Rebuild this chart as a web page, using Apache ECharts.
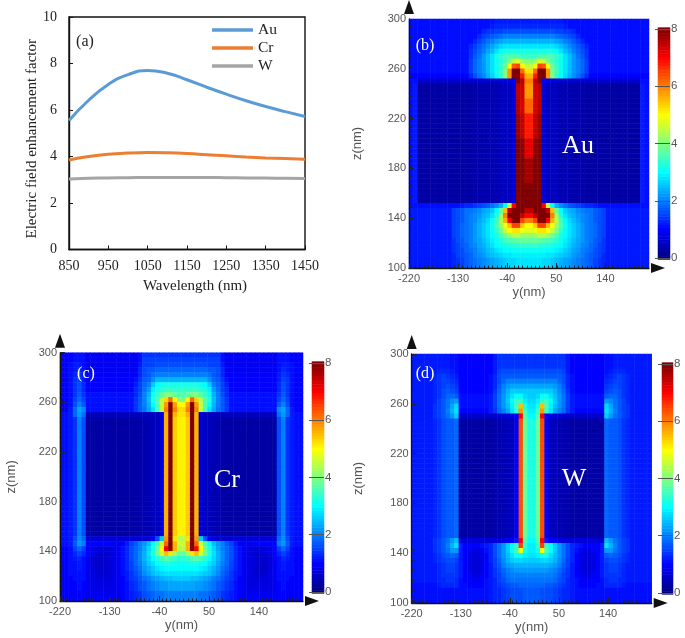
<!DOCTYPE html>
<html><head><meta charset="utf-8">
<style>html,body{margin:0;padding:0;background:#fff}#c{width:685px;height:638px;filter:blur(0.5px)}</style>
<script src="https://cdn.jsdelivr.net/npm/echarts@6/dist/echarts.min.js"></script>
</head><body><div id="c"></div>
<script>
const wavelength=[850,900,950,1000,1050,1100,1150,1200,1250,1300,1350,1400,1450];
const au=[5.55,6.42,7.1,7.52,7.7,7.58,7.3,6.98,6.68,6.4,6.15,5.93,5.72];
const cr=[3.85,4.0,4.1,4.15,4.17,4.16,4.13,4.08,4.03,3.98,3.94,3.91,3.88];
const w=[3.03,3.06,3.08,3.09,3.1,3.1,3.1,3.1,3.09,3.08,3.07,3.06,3.05];
const wavelengthTicks=[850,950,1050,1150,1250,1350,1450];
const yTicks=[-220,-130,-40,50,140];
const zTicks=[100,140,180,220,260,300];
const yCells=[-216,-208,-200,-192,-184,-176,-168,-160,-152,-144,-136,-128,-120,-112,-104,-96,-88,-80,-72,-64,-56,-48,-40,-32,-24,-16,-8,0,0.1,8,16,24,32,40,48,56,64,72,80,88,96,104,112,120,128,136,144,152,160,168,176,184,192,200,208,216];
const zCells=[102,106,110,114,118,122,126,130,134,138,142,146,150,154,158,162,166,170,174,178,182,186,190,194,198,202,206,210,214,218,222,226,230,234,238,242,246,250,254,258,262,266,270,274,278,282,286,290,294,298];
const scaleLevels=[0,.1,.2,.3,.4,.5,.6,.7,.8,.9,1,1.1,1.2,1.3,1.4,1.5,1.6,1.7,1.8,1.9,2,2.1,2.2,2.3,2.4,2.5,2.6,2.7,2.8,2.9,3,3.1,3.2,3.3,3.4,3.5,3.6,3.7,3.8,3.9,4,4.1,4.2,4.3,4.4,4.5,4.6,4.7,4.8,4.9,5,5.1,5.2,5.3,5.4,5.5,5.6,5.7,5.8,5.9,6,6.1,6.2,6.3,6.4,6.5,6.6,6.7,6.8,6.9,7,7.1,7.2,7.3,7.4,7.5,7.6,7.7,7.8,7.9,8];
const zNameGaps=[45,42,47];
// each entry: [number of z rows, field values from the left edge to the centre line], top row first
const fieldAu=[
[1,[1.1,1.1,1.1,1.1,1.1,1.1,1.1,1.1,1.1,1.1,1.1,1.1,1.1,1.1,1.1,1.1,1.1,1.1,1.1,1.1,1.2,1.2,1.2,1.2,1.2,1.2,1.2,1.2]],
[1,[1.1,1.1,1.1,1.1,1.1,1.1,1.1,1.1,1.1,1.1,1.1,1.1,1.1,1.1,1.1,1.1,1.1,1.1,1.1,1.2,1.3,1.3,1.3,1.3,1.3,1.3,1.3,1.3]],
[1,[1.1,1.1,1.1,1.1,1.1,1.1,1.1,1.1,1.1,1.1,1.1,1.1,1.1,1.1,1.1,1.1,1.1,1.3,1.4,1.4,1.5,1.5,1.6,1.6,1.6,1.6,1.6,1.6]],
[1,[1.1,1.1,1.1,1.1,1.1,1.1,1.1,1.1,1.1,1.1,1.1,1.1,1.1,1.1,1.1,1.1,1.3,1.5,1.6,1.7,1.8,1.9,2,2,2,2,2,2]],
[1,[1.1,1.1,1.1,1.1,1.1,1.1,1.1,1.1,1.1,1.1,1.1,1.1,1.1,1.1,1.1,1.3,1.5,1.7,1.9,2,2.2,2.3,2.4,2.4,2.4,2.4,2.4,2.4]],
[1,[1.1,1.1,1.1,1.1,1.1,1.1,1.1,1.1,1.1,1.1,1.1,1.1,1.1,1.1,1.3,1.5,1.7,1.9,2.1,2.3,2.5,2.7,2.8,2.8,2.8,2.8,2.8,2.8]],
[1,[1.1,1.1,1.1,1.1,1.1,1.1,1.1,1.1,1.1,1.1,1.1,1.1,1.1,1.1,1.4,1.6,1.8,2,2.3,2.5,2.8,3,3.2,3.2,3.2,3.2,3.2,3.2]],
[1,[1.1,1.1,1.1,1.1,1.1,1.1,1.1,1.1,1.1,1.1,1.1,1.1,1.1,1.1,1.4,1.7,1.9,2.2,2.5,2.8,3.2,3.4,3.5,3.6,3.6,3.5,3.4,3.4]],
[1,[1.1,1.1,1.1,1.1,1.1,1.1,1.1,1.1,1.1,1.1,1.1,1.1,1.1,1.1,1.5,1.8,2,2.2,2.5,2.8,3.1,3.3,3.6,4,4.5,4.8,4.2,4]],
[1,[1.1,1.1,1.1,1.1,1.1,1.1,1.1,1.1,1.1,1.1,1.1,1.1,1.1,1.1,1.5,1.8,2,2.2,2.5,2.8,3.1,3.4,3.8,5,6.3,6.5,5,4.5]],
[1,[1.1,1.1,1.1,1.1,1.1,1.1,1.1,1.1,1.1,1.1,1.1,1.1,1.1,1.1,1.5,1.8,2,2.2,2.5,2.8,3.1,3.5,4,5.8,8,8,6.2,5.2]],
[1,[1,1,1,1,1,1,1,1,1,1,1,1,1,1,1.3,1.6,1.9,2.1,2.4,2.7,3,3.4,4,5.8,8,8,6.8,5.6]],
[1,[1.1,1.1,.6,.6,.6,.6,.6,.6,.6,.6,.6,.6,.6,.6,.6,.6,.6,.6,.6,.6,.6,.7,.7,.8,1,8,7.5,6]],
[3,[1.1,1.2,.3,.3,.3,.3,.3,.3,.3,.3,.3,.3,.3,.3,.3,.35,.35,.35,.4,.4,.4,.5,.5,.5,.7,7.5,7.4,5.8]],
[3,[1.1,1.2,.3,.3,.3,.3,.3,.3,.3,.3,.3,.3,.3,.3,.3,.35,.35,.35,.4,.4,.4,.5,.5,.5,.7,7.6,7.3,6.2]],
[5,[1.1,1.2,.3,.3,.3,.3,.3,.3,.3,.3,.3,.3,.3,.3,.3,.35,.35,.35,.4,.4,.4,.5,.5,.5,.7,7.8,7.5,6.8]],
[4,[1.1,1.2,.3,.3,.3,.3,.3,.3,.3,.3,.3,.3,.3,.3,.3,.35,.35,.35,.4,.4,.4,.5,.5,.5,.7,8,7.9,7.2]],
[5,[1.1,1.2,.3,.3,.3,.3,.3,.3,.3,.3,.3,.3,.3,.3,.3,.35,.35,.35,.4,.4,.4,.5,.5,.5,.7,8,8,7.7]],
[4,[1.1,1.2,.3,.3,.3,.3,.3,.3,.3,.3,.3,.3,.3,.3,.3,.35,.35,.35,.4,.4,.4,.5,.5,.5,.7,8,8,8]],
[1,[1.1,1.1,1.1,1.1,1.1,1.1,1.1,1.1,1.1,1.1,1.1,1.1,1.2,1.3,1.3,1.4,1.5,1.6,1.7,1.9,2.1,2.4,3,4.5,7,8,8,8]],
[1,[1.2,1.2,1.2,1.2,1.2,1.2,1.2,1.2,1.2,1.2,1.5,1.6,1.7,1.9,1.9,2,2.1,2.3,2.4,2.6,3,3.8,5.5,7.5,8,8,8,7.5]],
[1,[1.2,1.2,1.2,1.2,1.2,1.2,1.2,1.2,1.2,1.2,1.5,1.6,1.7,1.9,2,2.1,2.2,2.4,2.5,2.8,3.2,4.2,6,8,8,8,7.5,7]],
[1,[1.2,1.2,1.2,1.2,1.2,1.2,1.2,1.2,1.2,1.2,1.5,1.6,1.7,1.9,2,2.1,2.3,2.5,2.7,3,3.5,4.4,5.6,7,8,8,6.5,6]],
[1,[1.2,1.2,1.2,1.2,1.2,1.2,1.2,1.2,1.2,1.2,1.5,1.6,1.8,1.9,2,2.2,2.4,2.6,2.8,3.1,3.6,4.2,5,5.5,6.5,6.5,5.4,5]],
[1,[1.2,1.2,1.2,1.2,1.2,1.2,1.2,1.2,1.2,1.2,1.5,1.6,1.8,1.9,2,2.2,2.4,2.6,2.8,3,3.4,4,4.6,5,5.2,5.2,4.9,4.8]],
[1,[1.2,1.2,1.2,1.2,1.2,1.2,1.2,1.2,1.2,1.2,1.5,1.6,1.8,1.9,2,2.2,2.4,2.6,2.8,3,3.2,3.6,3.9,4.2,4.4,4.4,4.2,4.2]],
[1,[1.2,1.2,1.2,1.2,1.2,1.2,1.2,1.2,1.2,1.2,1.4,1.6,1.7,1.9,2,2.2,2.3,2.5,2.7,2.9,3.1,3.3,3.5,3.6,3.7,3.8,3.8,3.8]],
[1,[1.2,1.2,1.2,1.2,1.2,1.2,1.2,1.2,1.2,1.2,1.4,1.5,1.7,1.8,2,2.1,2.3,2.4,2.6,2.8,3,3.1,3.2,3.3,3.3,3.3,3.4,3.4]],
[1,[1.2,1.2,1.2,1.2,1.2,1.2,1.2,1.2,1.2,1.2,1.4,1.5,1.6,1.8,1.9,2,2.2,2.3,2.5,2.6,2.8,2.9,3,3,3.1,3.1,3.1,3.1]],
[1,[1.2,1.2,1.2,1.2,1.2,1.2,1.2,1.2,1.2,1.2,1.3,1.5,1.6,1.7,1.8,2,2.1,2.2,2.4,2.5,2.6,2.7,2.8,2.8,2.9,2.9,2.9,2.9]],
[2,[1.2,1.2,1.2,1.2,1.2,1.2,1.2,1.2,1.2,1.2,1.3,1.4,1.5,1.7,1.8,1.9,2,2.1,2.2,2.3,2.4,2.5,2.6,2.7,2.7,2.8,2.8,2.8]]
];
const fieldCr=[
[1,[1,1,1,1.1,1.1,1.1,.9,.9,.9,.9,.9,.9,.9,.9,.9,.9,.9,.9,1.1,1.4,1.4,1.4,1.4,1.4,1.4,1.4,1.4,1.4]],
[1,[1,1,1,1.1,1.1,1.1,.9,.9,.9,.9,.9,.9,.9,.9,.9,.9,.9,.9,1.1,1.5,1.5,1.5,1.5,1.5,1.5,1.5,1.5,1.5]],
[1,[1,1,1.1,1.2,1.2,1.1,.9,.9,.9,.9,.9,.9,.9,.9,.9,.9,.9,.9,1.2,1.5,1.5,1.5,1.6,1.6,1.6,1.6,1.6,1.6]],
[1,[1,1,1.1,1.2,1.3,1.1,.9,.9,.9,.9,.9,.9,.9,.9,.9,.9,.9,.9,1.3,1.6,1.7,1.7,1.8,1.8,1.8,1.8,1.8,1.8]],
[1,[1,1,1.1,1.3,1.4,1.2,1,1,1,1,1,1,1,1,1,1,1,1,1.3,1.6,1.7,1.9,2,2,2,2,2,2]],
[1,[1,1,1.1,1.4,1.5,1.2,1,1,1,1,1,1,1,1,1,1,1,1.1,1.4,1.7,1.8,2.1,2.4,2.4,2.4,2.4,2.4,2.4]],
[1,[1,1,1.1,1.4,1.6,1.3,1,1,1,1,1,1,1,1,1,1,1,1.2,1.5,1.8,2,2.6,3,3.1,3.2,3.2,3.2,3.2]],
[1,[1,1,1.1,1.4,1.6,1.3,1,1,1,1,1,1,1,1,1,1,1,1.3,1.5,1.9,2.2,2.9,3.2,3.3,3.4,3.4,3.4,3.4]],
[1,[1,1,1.1,1.4,1.7,1.4,1.1,1.1,1.1,1.1,1.1,1.1,1.1,1.1,1.1,1.1,1.1,1.3,1.6,2,2.4,3.1,3.4,3.7,4,4,3.8,3.6]],
[1,[1,1,1.1,1.5,1.8,1.5,1.1,1.1,1.1,1.1,1.1,1.1,1.1,1.1,1.1,1.1,1.1,1.4,1.7,2,2.5,3.3,3.6,4.4,5.3,6.2,5,4]],
[1,[1,1,1.1,1.6,2,1.7,1.1,1.1,1.1,1.1,1.1,1.1,1.1,1.1,1.1,1.1,1.1,1.4,1.7,2,2.4,3,3.6,4.5,5.8,8,5.8,5]],
[1,[1,1,1.2,1.8,2.3,2.1,1.1,1.1,1.1,1.1,1.1,1.1,1.1,1.1,1.1,1.1,1.1,1.4,1.7,1.9,2.3,2.8,3.5,4.5,6,8,6,5.3]],
[1,[1.1,1.1,1.2,1.8,2.2,1.9,.5,.5,.5,.5,.5,.5,.5,.5,.5,.5,.5,.5,.5,.5,.5,.5,.5,.8,5.6,8,5.6,5.2]],
[24,[1.1,1.1,1.2,1.4,2,1.6,.3,.3,.3,.3,.3,.3,.3,.3,.3,.3,.3,.3,.35,.4,.4,.5,.5,.7,5.6,8,5.4,5.1]],
[1,[1.1,1.1,1.2,1.6,2.1,1.8,.7,.7,.7,.7,.7,.7,.7,.7,.7,.7,.7,.7,.7,.7,.7,1,1.6,2.6,5.8,8,5.2,4.4]],
[1,[1.1,1.1,1.2,1.7,2.2,2,1,1,1,1,1,1,.9,.9,.9,1.2,1.5,1.7,2,2.2,2.5,3,3.6,4.6,6.2,8,5.6,4.6]],
[1,[1,1,1.1,1.5,1.8,1.5,1,.8,.8,.7,.7,.7,.8,.9,1.1,1.3,1.6,1.8,2,2.3,2.7,3.2,3.8,5,7,8,5.6,4.4]],
[1,[1,1,1.1,1.3,1.5,1.3,1,.8,.7,.6,.6,.7,.8,.9,1.1,1.3,1.6,1.8,2.1,2.4,2.8,3.3,3.9,4.6,5.5,5.2,4.2,3.8]],
[1,[1,1,1.1,1.2,1.3,1.1,.9,.7,.6,.6,.6,.7,.8,.9,1.1,1.3,1.6,1.8,2.1,2.4,2.7,3,3.3,3.5,3.7,3.6,3.4,3.3]],
[1,[1,1,1.1,1.1,1.2,1.1,.9,.7,.6,.6,.6,.7,.8,.9,1.1,1.3,1.5,1.8,2,2.3,2.6,2.8,3,3.1,3.2,3.2,3.1,3.1]],
[1,[1,1,1.1,1.1,1.2,1.1,.9,.7,.6,.6,.6,.7,.8,.9,1.1,1.3,1.5,1.7,1.9,2.2,2.4,2.6,2.8,2.9,3,3,3,3]],
[1,[1,1,1.1,1.1,1.1,1.1,.9,.8,.7,.6,.6,.7,.8,.9,1.1,1.2,1.4,1.6,1.8,2.1,2.3,2.5,2.6,2.7,2.8,2.8,2.8,2.8]],
[1,[1,1,1,1.1,1.1,1.1,.9,.8,.7,.7,.7,.7,.8,.9,1,1.2,1.4,1.5,1.7,1.9,2,2.2,2.3,2.4,2.5,2.5,2.6,2.6]],
[2,[1,1,1,1,1.1,1,.9,.8,.8,.8,.8,.8,.8,.9,1,1.1,1.3,1.4,1.6,1.7,1.9,2,2.1,2.2,2.2,2.3,2.3,2.3]],
[2,[1,1,1,1,1,1,.9,.9,.9,.9,.9,.9,.9,.9,1,1.1,1.2,1.3,1.4,1.6,1.7,1.8,1.9,1.9,2,2,2,2]]
];
const fieldW=[
[3,[1.2,1.2,1.2,1.2,1.2,1.2,1.2,1.2,1.2,1.1,1.1,1,1,1,1,1,1,1,1,1.2,1.4,1.4,1.4,1.4,1.4,1.4,1.4,1.4]],
[1,[1.2,1.2,1.2,1.2,1.2,1.2,1.3,1.3,1.3,1.2,1.1,1,1,1,1,1,1,1,1,1.2,1.5,1.6,1.6,1.6,1.6,1.6,1.6,1.6]],
[1,[1.2,1.2,1.2,1.2,1.2,1.3,1.4,1.5,1.4,1.3,1.2,1,1,1,1,1,1,1,1.1,1.3,1.6,1.7,1.7,1.7,1.7,1.7,1.7,1.7]],
[1,[1.2,1.2,1.2,1.2,1.2,1.3,1.4,1.5,1.5,1.4,1.3,1,1,1,1,1,1,1,1.1,1.3,1.6,1.8,2,2,2,2,2,2]],
[1,[1.2,1.2,1.2,1.2,1.2,1.3,1.4,1.5,1.6,1.5,1.4,1,1,1,1,1,1,1,1.1,1.3,1.7,2,2.2,2.3,2.3,2.3,2.3,2.3]],
[1,[1.2,1.2,1.2,1.2,1.2,1.3,1.4,1.6,1.7,1.6,1.5,1,1,1,1,1,1,1,1.1,1.4,1.8,2.1,2.4,2.6,2.6,2.6,2.6,2.6]],
[1,[1.2,1.2,1.2,1.2,1.2,1.3,1.4,1.6,1.8,1.8,1.7,1.1,1.1,1.1,1.1,1.1,1.1,1.1,1.2,1.5,1.9,2.2,2.5,2.8,3,3,2.7,2.6]],
[1,[1.2,1.2,1.2,1.2,1.2,1.3,1.5,1.7,1.9,2.1,2.2,1.1,1.1,1.1,1.1,1.1,1.1,1.1,1.2,1.5,1.9,2.2,2.6,3,3.5,3.5,2.9,2.7]],
[1,[1.2,1.2,1.2,1.2,1.2,1.4,1.5,1.7,1.9,2.3,2.7,1.1,1.1,1.1,1.1,1.1,1.1,1.1,1.2,1.5,1.9,2.2,2.5,2.9,3.5,5.5,3.2,2.8]],
[1,[1.2,1.2,1.2,1.2,1.2,1.4,1.5,1.7,2,2.4,2.8,1,1,1,1,1,1,1,1.2,1.4,1.8,2,2.3,2.8,3.4,5.8,3.5,2.9]],
[1,[1.2,1.2,1.2,1.2,1.2,1.4,1.5,1.7,1.9,2.2,2.6,.6,.6,.6,.6,.6,.6,.6,.6,.6,.6,.7,.7,.8,1,7,3.6,3]],
[24,[1.2,1.2,1.2,1.2,1.2,1.3,1.4,1.6,1.7,1.7,1.8,.3,.3,.3,.3,.3,.3,.3,.3,.35,.4,.4,.45,.5,.9,6.4,3.8,3.2]],
[1,[1.2,1.2,1.2,1.2,1.2,1.4,1.5,1.7,1.9,2.2,2.5,.7,.7,.7,.7,.7,.7,.7,.7,.7,.7,.8,.9,1,1.2,7,3.6,3]],
[1,[1.2,1.2,1.2,1.2,1.2,1.4,1.5,1.7,2,2.4,2.8,1.2,1,1,1,1,1.1,1.2,1.3,1.6,1.9,2.2,2.6,3,3.4,6.5,3.4,2.9]],
[1,[1.2,1.2,1.2,1.2,1.2,1.4,1.5,1.7,1.9,2.2,2.2,1.2,1,.9,.8,.8,.9,1.1,1.3,1.6,1.9,2.2,2.6,3,3.6,5,3.2,2.9]],
[1,[1.2,1.2,1.2,1.2,1.2,1.3,1.4,1.6,1.7,1.8,1.7,1.2,1,.8,.7,.7,.8,1,1.3,1.6,1.9,2.2,2.5,2.8,3.1,3.1,2.9,2.8]],
[1,[1.2,1.2,1.2,1.2,1.2,1.3,1.4,1.5,1.6,1.6,1.5,1.2,1,.8,.7,.7,.8,1,1.3,1.5,1.8,2.1,2.4,2.6,2.7,2.7,2.6,2.6]],
[1,[1.2,1.2,1.2,1.2,1.2,1.2,1.3,1.4,1.5,1.5,1.4,1.2,1,.8,.7,.7,.8,1,1.2,1.5,1.7,2,2.2,2.3,2.4,2.4,2.4,2.4]],
[1,[1.2,1.2,1.2,1.2,1.2,1.2,1.3,1.4,1.5,1.5,1.4,1.2,1,.8,.7,.7,.8,1,1.2,1.4,1.6,1.8,2,2.1,2.2,2.2,2.2,2.2]],
[1,[1.2,1.2,1.2,1.2,1.2,1.2,1.3,1.4,1.4,1.4,1.4,1.2,1,.9,.8,.8,.9,1,1.2,1.4,1.5,1.7,1.9,2,2,2,2,2]],
[1,[1.2,1.2,1.2,1.2,1.2,1.2,1.3,1.3,1.4,1.4,1.3,1.1,1,1,.9,.9,1,1.1,1.2,1.3,1.5,1.6,1.8,1.9,1.9,1.9,1.9,1.9]],
[1,[1.1,1.1,1.1,1.1,1.1,1.1,1.2,1.3,1.3,1.3,1.3,1.1,1.1,1,1,1,1,1.1,1.2,1.3,1.4,1.5,1.6,1.7,1.7,1.8,1.8,1.8]],
[3,[1.1,1.1,1.1,1.1,1.1,1.1,1.1,1.1,1.1,1.1,1.1,1.1,1.1,1.1,1.1,1.1,1.1,1.1,1.2,1.3,1.3,1.4,1.5,1.6,1.6,1.6,1.7,1.7]]
];

function cells(field){
  const out=[];let row=zCells.length-1;
  field.forEach(([n,half])=>{
    const full=half.concat(half.slice().reverse());
    for(let k=0;k<n;k++){full.forEach((v,x)=>out.push([x,row,v]));row--;}
  });
  return out;
}
const serif='"Liberation Serif","Times New Roman",serif', sans='"Liberation Sans",Arial,sans-serif';
const gridRects=[
 {left:69,top:17,width:236,height:232.5},
 {left:409,top:19,width:240,height:249},
 {left:60,top:352.7,width:243,height:248.3},
 {left:411.7,top:354,width:240,height:249}
];
const barRects=[
 {left:658,top:27.6,width:12,height:231.9},
 {left:312,top:361.6,width:12,height:231.8},
 {left:662,top:362.6,width:11,height:231.8}
];
const grids=[{...gridRects[0],show:true,borderColor:'#111',borderWidth:1.4,backgroundColor:'#fff'}]
  .concat(gridRects.slice(1)).concat(barRects).map(g=>({...g,outerBoundsMode:'none',containLabel:false}));
const xAxis=[{gridIndex:0,type:'value',min:850,max:1450,position:'bottom',
  axisLine:{show:true,lineStyle:{color:'#111',width:1.4}},
  axisTick:{show:true,inside:true,length:4,lineStyle:{color:'#111'},customValues:wavelengthTicks},
  axisLabel:{customValues:wavelengthTicks,formatter:v=>String(v),fontFamily:serif,fontSize:14,color:'#222',margin:10},
  splitLine:{show:false},name:'Wavelength (nm)',nameLocation:'middle',nameGap:29,
  nameTextStyle:{fontFamily:serif,fontSize:15,color:'#222',padding:[0,0,0,16]}}];
const yAxis=[{gridIndex:0,type:'value',min:0,max:10,interval:2,
  axisLine:{show:true,lineStyle:{color:'#111',width:1.4}},
  axisTick:{show:true,inside:true,length:4,lineStyle:{color:'#111'}},
  axisLabel:{fontFamily:serif,fontSize:14,color:'#222',margin:12},splitLine:{show:false},
  name:'Electric field enhancement factor',nameLocation:'middle',nameGap:25,
  nameTextStyle:{fontFamily:serif,fontSize:15,color:'#222',padding:[0,11,0,0]}}];
const series=[
 {name:'Au',type:'line',data:wavelength.map((x,i)=>[x,au[i]]),smooth:true,symbol:'none',lineStyle:{width:3,color:'#5B9BD5'},itemStyle:{color:'#5B9BD5'},xAxisIndex:0,yAxisIndex:0},
 {name:'Cr',type:'line',data:wavelength.map((x,i)=>[x,cr[i]]),smooth:true,symbol:'none',lineStyle:{width:3,color:'#ED7D31'},itemStyle:{color:'#ED7D31'},xAxisIndex:0,yAxisIndex:0},
 {name:'W',type:'line',data:wavelength.map((x,i)=>[x,w[i]]),smooth:true,symbol:'none',lineStyle:{width:3,color:'#A5A5A5'},itemStyle:{color:'#A5A5A5'},xAxisIndex:0,yAxisIndex:0}
];
const heatSeries=[];
[fieldAu,fieldCr,fieldW].forEach((field,p)=>{
  const g=p+1, base=xAxis.length;
  xAxis.push({gridIndex:g,type:'category',data:yCells.map(String),position:'bottom',z:5,
    axisLine:{show:false,onZero:false},axisLabel:{show:false},splitLine:{show:false},
    axisTick:{show:true,inside:true,length:2.5,alignWithLabel:true,interval:0,lineStyle:{color:'#223',width:1}}});
  yAxis.push({gridIndex:g,type:'category',data:zCells.map(String),position:'left',z:5,
    axisLine:{show:false,onZero:false},axisLabel:{show:false},splitLine:{show:false},
    axisTick:{show:true,inside:true,length:2.5,alignWithLabel:true,interval:1,lineStyle:{color:'#223',width:1}}});
  xAxis.push({gridIndex:g,type:'value',min:-220,max:220,position:'bottom',z:6,
    axisLine:{show:true,onZero:false,symbol:['none','triangle'],symbolSize:[10,14],symbolOffset:[0,9],lineStyle:{color:'#111',width:1.3}},
    axisTick:{show:true,inside:true,length:5,customValues:yTicks,lineStyle:{color:'#223'}},
    axisLabel:{customValues:yTicks,fontFamily:sans,fontSize:11,color:'#555',margin:5},splitLine:{show:false},
    name:'y(nm)',nameLocation:'middle',nameGap:18,nameTextStyle:{fontFamily:sans,fontSize:13,color:'#555'}});
  yAxis.push({gridIndex:g,type:'value',min:100,max:300,position:'left',z:6,
    axisLine:{show:true,onZero:false,symbol:['none','triangle'],symbolSize:[10,14],symbolOffset:[0,12],lineStyle:{color:'#111',width:1.3}},
    axisTick:{show:true,inside:true,length:5,customValues:zTicks,lineStyle:{color:'#223'}},
    axisLabel:{customValues:zTicks,fontFamily:sans,fontSize:11,color:'#555',margin:3},splitLine:{show:false},
    name:'z(nm)',nameLocation:'middle',nameGap:zNameGaps[p],nameTextStyle:{fontFamily:sans,fontSize:13,color:'#555'}});
  heatSeries.push({type:'heatmap',xAxisIndex:base,yAxisIndex:base,data:cells(field),progressive:0,z:1,emphasis:{disabled:true}});
});
const firstBar=xAxis.length;
barRects.forEach((r,p)=>{
  const g=4+p;
  xAxis.push({gridIndex:g,type:'category',data:['scale'],axisLine:{show:false},axisTick:{show:false},axisLabel:{show:false},splitLine:{show:false}});
  yAxis.push({gridIndex:g,type:'category',position:'right',data:scaleLevels.map(String),z:5,
    axisLine:{show:false},splitLine:{show:false},
    axisTick:{show:true,inside:true,length:15,alignWithLabel:true,interval:i=>i%20===0,lineStyle:{color:'#555',width:1}},
    axisLabel:{interval:i=>i%20===0,fontFamily:sans,fontSize:11.5,color:'#555',margin:1}});
  heatSeries.push({type:'heatmap',xAxisIndex:firstBar+p,yAxisIndex:firstBar+p,z:1,emphasis:{disabled:true},
    data:scaleLevels.map((v,i)=>[0,i,v])});
});
const chartSeries=series.concat(heatSeries);
const text=(t,x,y,size)=>({type:'text',x,y,z:50,style:{text:t,fill:'#fff',font:size+'px '+serif,textAlign:'center',textVerticalAlign:'middle'}});
const chart=echarts.init(document.getElementById('c'),null,{renderer:'canvas'});
chart.setOption({
 animation:false,grid:grids,xAxis,yAxis,series:chartSeries,
 tooltip:{show:false},
 legend:{data:['Au','Cr','W'],left:212,top:22,orient:'vertical',itemWidth:41,itemHeight:3.5,itemGap:2,itemStyle:{borderWidth:0},
   textStyle:{fontFamily:serif,fontSize:15.5,color:'#222',lineHeight:15},icon:'rect',selectedMode:false,padding:0},
 visualMap:{show:false,type:'continuous',min:0,max:8,dimension:2,seriesIndex:[3,4,5,6,7,8],
   inRange:{color:['#00007f','#0000ff','#007fff','#00ffff','#7fff7f','#ffff00','#ff7f00','#ff0000','#7f0000']}},
 graphic:[
  {type:'text',x:85,y:42,z:50,style:{text:'(a)',fill:'#222',font:'16px '+serif,textAlign:'center',textVerticalAlign:'middle'}},
  text('(b)',425,46,16),text('Au',578,146,26),
  text('(c)',86,374,16),text('Cr',227,480,26),
  text('(d)',425,374,16),text('W',574,479,26)
 ]
});
</script></body></html>
